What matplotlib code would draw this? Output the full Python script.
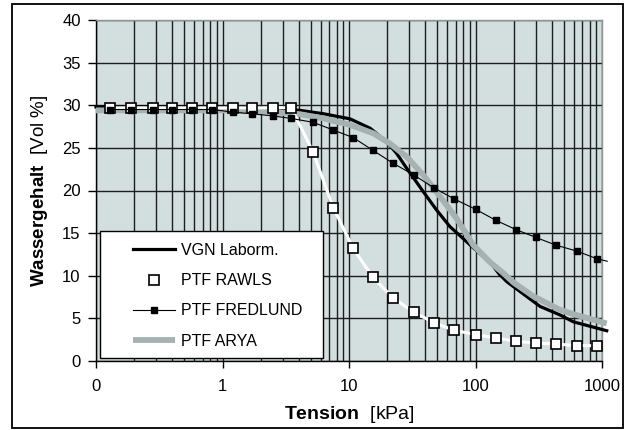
import matplotlib
matplotlib.use("Agg")
import matplotlib.pyplot as plt
from matplotlib.patches import Rectangle

plt.rcParams['font.family'] = ['Liberation Sans', 'DejaVu Sans']
plt.rcParams['mathtext.fontset'] = 'custom'
plt.rcParams['mathtext.bf'] = 'Liberation Sans:bold'

# tension steps of the PTF points [kPa]
tension_ptf = [0.13, 0.19, 0.28, 0.4, 0.57, 0.83, 1.2, 1.7, 2.5, 3.5, 5.2, 7.5,
               10.8, 15.5, 22.3, 32.7, 47, 68, 100, 145, 210, 300, 430, 630, 910]
rawls = [29.7, 29.7, 29.7, 29.7, 29.7, 29.7, 29.7, 29.7, 29.7, 29.7, 24.5, 18.0,
         13.2, 9.8, 7.4, 5.7, 4.5, 3.6, 3.1, 2.7, 2.3, 2.1, 2.0, 1.8, 1.8]
fredlund = [29.5, 29.5, 29.5, 29.5, 29.5, 29.5, 29.2, 29.0, 28.75, 28.45, 28.0, 27.1,
            26.2, 24.7, 23.2, 21.8, 20.3, 19.0, 17.8, 16.5, 15.4, 14.5, 13.6, 12.9, 12.0]
# fredlund line runs a bit past the last point
fredlund_end = (1100, 11.7)

# van Genuchten fit to lab data
vgn_x = [0.1, 1, 2, 4.1, 6.3, 10.2, 14.7, 19.9, 23.8, 28.6, 38.7, 49.3, 62.9, 85,
         94, 130, 156, 177, 324, 466, 593, 1090]
vgn_y = [29.8, 29.8, 29.7, 29.4, 29.0, 28.4, 27.3, 25.7, 24.35, 22.6, 19.85, 17.7,
         15.75, 14.0, 13.4, 11.6, 10.1, 9.3, 6.4, 5.4, 4.6, 3.55]

# PTF after Arya
arya_x = [0.1, 1, 2, 4.1, 6.3, 10.2, 15.6, 21.1, 28.6, 38.7, 52.4, 71, 96, 130,
          166, 200, 286, 466, 593, 1090]
arya_y = [29.4, 29.4, 29.3, 28.95, 28.45, 27.7, 26.7, 25.5, 23.95, 21.8, 19.3, 16.7,
          13.6, 11.6, 10.3, 9.2, 7.6, 6.0, 5.5, 4.4]

x_ticks = [0.1, 1, 10, 100, 1000]
x_ticklabels = ['0', '1', '10', '100', '1000']
y_ticks = [0, 5, 10, 15, 20, 25, 30, 35, 40]

fig = plt.figure(figsize=(6.27, 4.30), dpi=100)
ax = fig.add_axes([96/627, 69/430, 506/627, 341/430])
ax.set_facecolor('#D3DEDE')

ax.plot(vgn_x, vgn_y, color='black', lw=2.3, label='VGN Laborm.', zorder=3,
        clip_on=False)
ax.plot(tension_ptf, rawls, color='white', lw=2.2, marker='s', ms=7.2,
        mfc='white', mec='black', mew=1.2, label='PTF RAWLS', zorder=4)
ax.plot(tension_ptf + [fredlund_end[0]], fredlund + [fredlund_end[1]], color='black',
        lw=0.8, marker='s', ms=4.6, mfc='black', mec='black',
        markevery=list(range(len(tension_ptf))), label='PTF FREDLUND', zorder=5,
        clip_on=False)
ax.plot(arya_x, arya_y, color='#A6B2B2', lw=4.2, label='PTF ARYA', zorder=3.5,
        clip_on=False, solid_capstyle='butt')

ax.set_xscale('log')
ax.set_xlim(0.1, 1000)
ax.set_ylim(0, 40)
ax.set_xticks(x_ticks, labels=x_ticklabels)
ax.set_yticks(y_ticks)
ax.tick_params(axis='both', which='major', labelsize=12, direction='out',
               color='black', width=1)
ax.tick_params(axis='x', which='major', length=5, pad=8)
ax.tick_params(axis='y', which='major', length=6, pad=5)
ax.tick_params(axis='x', which='minor', length=0)
ax.xaxis.set_minor_formatter(plt.NullFormatter())

ax.grid(True, which='both', axis='x', color='#1e1e1e', lw=1)
ax.grid(True, which='major', axis='y', color='#1e1e1e', lw=1)
ax.set_axisbelow(True)

for side in ['top', 'right']:
    ax.spines[side].set_color('#8C9898')
for side in ['left', 'bottom']:
    ax.spines[side].set_color('black')
for sp in ax.spines.values():
    sp.set_linewidth(1)

ax.set_xlabel(r'$\mathbf{Tension}$  [kPa]', fontsize=14, labelpad=7)
ax.set_ylabel(r'$\mathbf{Wassergehalt}$  [Vol %]', fontsize=13.5, labelpad=9)

# legend box sits inside the plot, lower left
fig.patches.append(Rectangle((100/627, 72/430), 223/627, 127/430,
                             transform=fig.transFigure, facecolor='white',
                             edgecolor='black', lw=1, zorder=1))
handles, labels = ax.get_legend_handles_labels()
fig.legend(handles, labels, loc='upper left', bbox_to_anchor=(133/627, 187/430),
           frameon=False, fontsize=11.5, borderpad=0, borderaxespad=0,
           handlelength=2.65, handletextpad=0.35, labelspacing=0.95, numpoints=1)

# outer frame round the whole chart
fig.patches.append(Rectangle((12/627, 2/430), 611/627, 424/430,
                             transform=fig.transFigure, fill=False,
                             edgecolor='black', lw=1.3, zorder=0))

fig.savefig('out.png', dpi=100)
